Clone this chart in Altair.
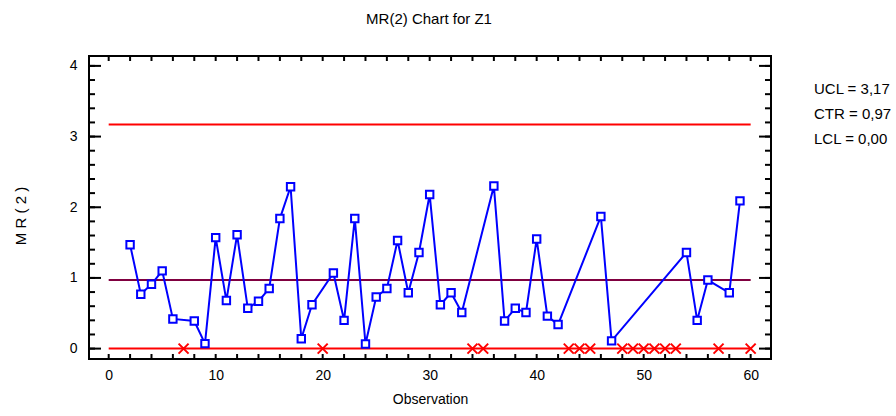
import altair as alt
import pandas as pd

# ---- data ----
obs = [2, 3, 4, 5, 6, 8, 9, 10, 11, 12, 13, 14, 15, 16, 17, 18, 19, 21, 22, 23, 24,
       25, 26, 27, 28, 29, 30, 31, 32, 33, 36, 37, 38, 39, 40, 41, 42, 46, 47, 54,
       55, 56, 58, 59]
mr = [1.47, 0.77, 0.91, 1.10, 0.42, 0.39, 0.07, 1.57, 0.68, 1.61, 0.57, 0.67, 0.85,
      1.84, 2.29, 0.14, 0.62, 1.07, 0.40, 1.84, 0.065, 0.73, 0.85, 1.53, 0.79, 1.36,
      2.18, 0.62, 0.79, 0.51, 2.30, 0.39, 0.57, 0.51, 1.55, 0.46, 0.34, 1.87, 0.11,
      1.36, 0.40, 0.97, 0.79, 2.09]
excluded_obs = [7, 20, 34, 35, 43, 44, 45, 48, 49, 50, 51, 52, 53, 57, 60]
ucl, ctr, lcl = 3.17, 0.97, 0.00
obs_first, obs_last = 0, 60

x_tick_values = list(range(0, 61, 2))
x_label_values = [0, 10, 20, 30, 40, 50, 60]
y_minor_values = [0, 0.2, 0.4, 0.6, 0.8, 1, 1.2, 1.4, 1.6, 1.8, 2, 2.2, 2.4, 2.6, 2.8,
                  3, 3.2, 3.4, 3.6, 3.8, 4]
y_major_values = [0, 1, 2, 3, 4]

title_text = "MR(2) Chart for Z1"
y_title_text = "M R ( 2 )"
x_title_text = "Observation"

# ---- layout ----
W, H = 682, 303
FONT = "Liberation Sans"

xs = alt.Scale(domain=[-1.84, 61.9], nice=False, zero=False)
ys = alt.Scale(domain=[-0.147, 4.14], nice=False, zero=False)

XAX = alt.Axis(values=x_label_values, ticks=False, tickSize=0, domain=False,
               grid=False, labelFont=FONT, labelFontSize=14, labelColor="black",
               labelPadding=9, title=x_title_text, titleFont=FONT,
               titleFontSize=14, titleFontWeight="normal", titleColor="black",
               titlePadding=10)
YAX = alt.Axis(values=y_major_values, ticks=False, tickSize=0, domain=False,
               grid=False, labelFont=FONT, labelFontSize=14, labelColor="black",
               labelPadding=12, title=None)

df = pd.DataFrame({"obs": obs, "mr": mr})
df_ex = pd.DataFrame({"obs": excluded_obs, "mr": [0.0] * len(excluded_obs)})
df_xt = pd.DataFrame({"obs": x_tick_values})
df_ymin = pd.DataFrame({"mr": y_minor_values})
df_ymaj = pd.DataFrame({"mr": y_major_values})

tick_style = dict(color="black", strokeWidth=2)


def X(field="obs:Q"):
    return alt.X(field, scale=xs, axis=XAX, title=x_title_text)


def Y(field="mr:Q"):
    return alt.Y(field, scale=ys, axis=YAX, title=None)


line = alt.Chart(df).mark_line(color="#0000ff", strokeWidth=2).encode(x=X(), y=Y())

bottom_ticks = alt.Chart(df_xt).mark_rule(**tick_style).encode(
    x=X(), y=alt.value(H), y2=alt.value(H - 5))
top_ticks = alt.Chart(df_xt).mark_rule(**tick_style).encode(
    x=X(), y=alt.value(0), y2=alt.value(5))
left_minor = alt.Chart(df_ymin).mark_rule(**tick_style).encode(
    y=Y(), x=alt.value(0), x2=alt.value(6))
left_major = alt.Chart(df_ymaj).mark_rule(**tick_style).encode(
    y=Y(), x=alt.value(0), x2=alt.value(12))
right_minor = alt.Chart(df_ymin).mark_rule(**tick_style).encode(
    y=Y(), x=alt.value(W), x2=alt.value(W - 6))
right_major = alt.Chart(df_ymaj).mark_rule(**tick_style).encode(
    y=Y(), x=alt.value(W), x2=alt.value(W - 12))


def limit_rule(val, color):
    d = pd.DataFrame({"obs": [obs_first], "obs2": [obs_last], "mr": [val]})
    return alt.Chart(d).mark_rule(color=color, strokeWidth=2).encode(
        x=X(), x2="obs2:Q", y=Y())


ucl_rule = limit_rule(ucl, "#ff0000")
ctr_rule = limit_rule(ctr, "#800040")
lcl_rule = limit_rule(lcl, "#ff0000")

points = alt.Chart(df).mark_point(shape="square", size=55, fill="white", stroke="#0000ff",
                                  strokeWidth=2, opacity=1, fillOpacity=1).encode(
    x=X(), y=Y())

xmarks = alt.Chart(df_ex).mark_point(shape="M-1,-1L1,1M1,-1L-1,1", size=100, filled=False,
                                     stroke="#ff0000", strokeWidth=2, opacity=1).encode(
    x=X(), y=Y())


def fmt(v):
    return f"{v:.2f}".replace(".", ",")


labels = [f"UCL = {fmt(ucl)}", f"CTR = {fmt(ctr)}", f"LCL = {fmt(lcl)}"]
label_layers = []
for i, t in enumerate(labels):
    label_layers.append(
        alt.Chart(pd.DataFrame({"t": [t]})).mark_text(
            align="left", baseline="middle", font=FONT, fontSize=15, color="black"
        ).encode(text="t:N", x=alt.value(725), y=alt.value(32.5 + 25 * i)))

title_layer = alt.Chart(pd.DataFrame({"t": [title_text]})).mark_text(
    align="center", baseline="alphabetic", font=FONT, fontSize=15, color="black"
).encode(text="t:N", x=alt.value(340), y=alt.value(-32))

ytitle_layer = alt.Chart(pd.DataFrame({"t": [y_title_text]})).mark_text(
    align="center", baseline="middle", font=FONT, fontSize=15, color="black", angle=270
).encode(text="t:N", x=alt.value(-68), y=alt.value(160))

chart = alt.layer(
    bottom_ticks, top_ticks, left_minor, left_major, right_minor, right_major,
    ucl_rule, ctr_rule, lcl_rule,
    line, points, xmarks,
    *label_layers, title_layer, ytitle_layer,
).properties(
    width=W, height=H,
    background="white",
    autosize=alt.AutoSizeParams(type="none"),
    padding={"left": 89, "top": 56, "right": 896 - 89 - W, "bottom": 416 - 56 - H},
).configure_view(stroke="black", strokeWidth=2)

chart.save("out.html", embed_options={"renderer": "svg", "actions": False})
